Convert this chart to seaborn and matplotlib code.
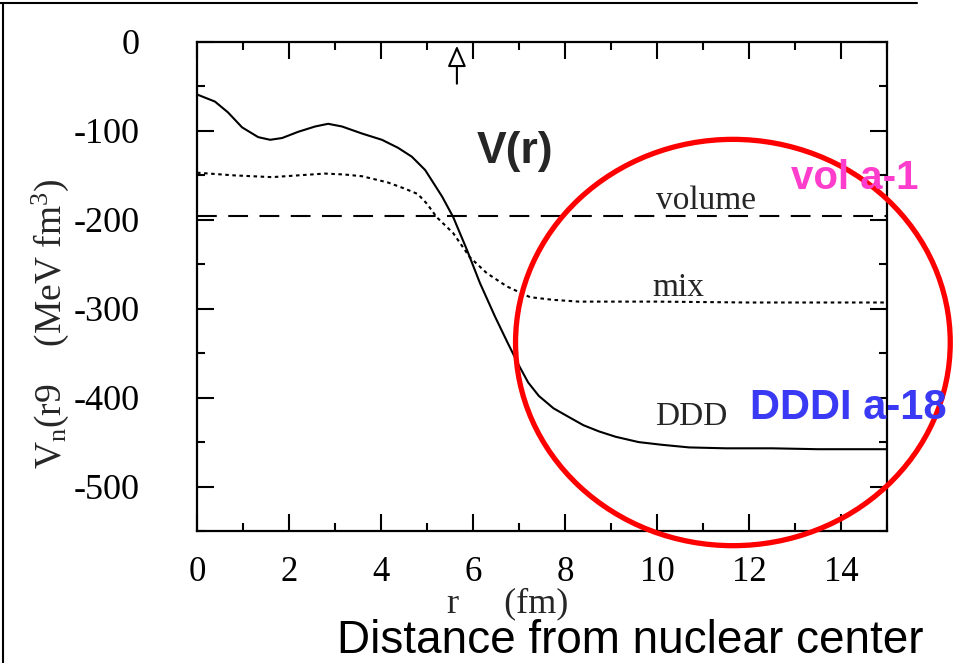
import numpy as np
import pandas as pd
import matplotlib
matplotlib.use("Agg")
import matplotlib.pyplot as plt
import seaborn as sns
from matplotlib.patches import Ellipse, FancyArrowPatch
from matplotlib.lines import Line2D
from matplotlib.ticker import MultipleLocator

# Radial distance (fm) and potential values (MeV fm^3)
r_ddd = [0.0, 0.39, 0.67, 0.98, 1.33, 1.59, 1.85, 2.2, 2.57, 2.85, 3.15, 3.59,
         4.02, 4.37, 4.67, 4.96, 5.17, 5.33, 5.57, 5.87, 6.15, 6.48, 6.75, 7.0,
         7.2, 7.43, 7.75, 8.09, 8.4, 8.74, 9.1, 9.6, 10.1, 10.7, 11.5, 12.5,
         13.5, 15.0]
v_ddd = [-59, -67, -79, -96, -107, -110, -108, -101, -95, -92, -95, -103,
         -110, -119, -129, -144, -161, -174, -197, -234, -271, -309, -338, -364,
         -383, -398, -412, -422, -431, -438, -444, -450, -453, -456, -457, -457,
         -458, -458]

r_mix = [0.0, 0.8, 1.63, 2.2, 2.78, 3.2, 3.59, 4.15, 4.52, 4.8, 5.0, 5.21,
         5.57, 5.93, 6.3, 6.74, 7.24, 7.74, 8.3, 9.0, 10.0, 12.0, 15.0]
v_mix = [-147, -150, -152, -150, -148, -149, -151, -158, -165, -171, -182, -197,
         -215, -242, -260, -275, -287, -290, -292, -292, -292, -293, -293]

r_vol = [0.0, 15.0]
v_vol = [-196, -196]

x_ticks = [0, 2, 4, 6, 8, 10, 12, 14]
y_ticks = [0, -100, -200, -300, -400, -500]

df = pd.concat([
    pd.DataFrame({"r": r_ddd, "V": v_ddd, "series": "DDD"}),
    pd.DataFrame({"r": r_mix, "V": v_mix, "series": "mix"}),
    pd.DataFrame({"r": r_vol, "V": v_vol, "series": "volume"}),
], ignore_index=True)

sns.set_theme(style="ticks")
plt.rcParams["font.family"] = ["Liberation Serif", "DejaVu Serif"]
plt.rcParams["mathtext.fontset"] = "custom"
plt.rcParams["mathtext.rm"] = "Liberation Serif"
plt.rcParams["mathtext.it"] = "Liberation Serif:italic"
plt.rcParams["lines.solid_joinstyle"] = "round"

W, H = 961, 663
fig = plt.figure(figsize=(W / 100, H / 100), dpi=100)
fig.patch.set_facecolor("white")
ax = fig.add_axes([197 / W, 1 - 531 / H, (887 - 197) / W, (531 - 42) / H])
ax.set_facecolor("white")

sns.lineplot(data=df, x="r", y="V", hue="series", style="series",
             palette={"DDD": "black", "mix": "black", "volume": "black"},
             dashes={"DDD": "", "mix": (1.7, 1.7), "volume": (9.5, 5.5)},
             linewidth=1.5, legend=False, ax=ax, sort=False)

ax.set_xlim(0, 15)
ax.set_ylim(-550, 0)
ax.set_xticks(x_ticks)
ax.set_yticks(y_ticks)
ax.set_xticklabels([str(t) for t in x_ticks])
ax.set_yticklabels([str(t) for t in y_ticks])
ax.xaxis.set_minor_locator(MultipleLocator(1))
ax.yaxis.set_minor_locator(MultipleLocator(50))
ax.tick_params(which="both", direction="in", top=True, right=True,
               labelsize=25, colors="black", width=1.5)
ax.tick_params(which="major", length=12)
ax.tick_params(which="minor", length=6)
ax.tick_params(axis="x", pad=18)
ax.tick_params(axis="y", labelsize=26, pad=41)
for s in ax.spines.values():
    s.set_linewidth(1.6)
    s.set_color("black")
ax.set_xlabel("")
ax.set_ylabel("")

# axis titles
fig.text(508 / W, 1 - 604 / H, "r     (fm)", ha="center", va="center",
         fontsize=26)
fig.text(50 / W, 1 - 324 / H, r"V$_{\rm n}$(r9    (MeV fm$^{\rm 3}$)",
         rotation=90, ha="center", va="center", fontsize=27)

# curve labels
ax.text(11.07, -178, "volume", fontsize=24, ha="center", va="center")
ax.text(10.46, -276, "mix", fontsize=24, ha="center", va="center")
ax.text(10.74, -421, "DDD", fontsize=24, ha="center", va="center")

# radius marker arrow at the top
ax.add_patch(FancyArrowPatch((5.65, -50), (5.65, -1),
                             arrowstyle="-|>,head_length=8,head_width=3.5",
                             mutation_scale=1.6, lw=1.5, fc="white", ec="black",
                             clip_on=False))

sans = ["Liberation Sans", "DejaVu Sans"]
fig.text(515 / W, 1 - 152 / H, "V(r)", fontsize=32, fontweight="bold",
         family=sans, ha="center", va="center")

# highlight ellipse
ax.add_patch(Ellipse((11.65, -338), width=9.45, height=457, fill=False,
                     ec="#ff0000", lw=3.8, clip_on=False, zorder=5))

fig.text(855 / W, 1 - 178 / H, "vol a-1", fontsize=29, fontweight="bold",
         family=sans, color="#ff3dcc", ha="center", va="center", zorder=6)
fig.text(848 / W, 1 - 408 / H, "DDDI a-18", fontsize=30, fontweight="bold",
         family=sans, color="#3a3af5", ha="center", va="center", zorder=6)
fig.text(630 / W, 1 - 641 / H, "Distance from nuclear center", fontsize=33,
         family=sans, color="black", ha="center", va="center")

# slide frame lines
fig.add_artist(Line2D([0, 917 / W], [1 - 3 / H, 1 - 3 / H], color="black",
                      lw=1.5, transform=fig.transFigure))
fig.add_artist(Line2D([3 / W, 3 / W], [0, 1 - 3 / H], color="black",
                      lw=1.5, transform=fig.transFigure))

fig.savefig("out.png", dpi=100, facecolor="white")
